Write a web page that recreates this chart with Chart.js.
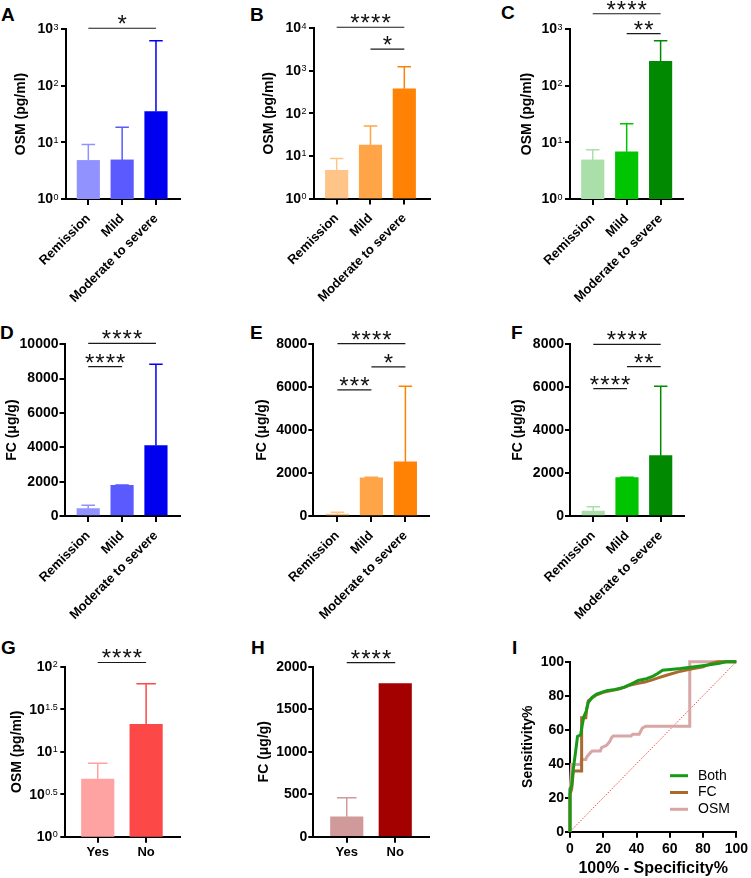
<!DOCTYPE html>
<html>
<head>
<meta charset="utf-8">
<title>OSM and FC by disease activity</title>
<script src="https://cdn.jsdelivr.net/npm/chart.js"></script>
<style>
  body { margin: 0; background: #fff; }
  #wrap { position: relative; width: 751px; height: 878px; overflow: hidden; background: #fff; }
  #wrap canvas { position: absolute; left: 0; top: 0; }
  .tag { position: absolute; font: bold 19px 'Liberation Sans', Arial, sans-serif; line-height: 19px; color: #000; }
</style>
</head>
<body>
<div id="wrap">
  <div class="tag" style="left:1px;top:4.5px">A</div>
  <div class="tag" style="left:250px;top:4.5px">B</div>
  <div class="tag" style="left:501px;top:3px">C</div>
  <div class="tag" style="left:0px;top:322.5px">D</div>
  <div class="tag" style="left:250px;top:322.5px">E</div>
  <div class="tag" style="left:511px;top:322.5px">F</div>
  <div class="tag" style="left:1px;top:637.5px">G</div>
  <div class="tag" style="left:251px;top:637.5px">H</div>
  <div class="tag" style="left:512px;top:637.5px">I</div>
</div>
<script>
// groups
var severity = ['Remission', 'Mild', 'Moderate to severe'];
var response = ['Yes', 'No'];

// OSM (pg/ml): mean and SD per group
var osmA = [4.8, 4.9, 35];
var osmA_sd = [4.4, 13.5, 585];
var osmB = [4.6, 17.8, 374];
var osmB_sd = [4.1, 32.2, 854];
var osmC = [4.9, 6.8, 269];
var osmC_sd = [2.5, 14.5, 351];
var osmG = [4.77, 21.0];
var osmG_sd = [2.52, 42];

// FC (ug/g): mean and SD per group
var fcD = [425, 1790, 4100];
var fcD_sd = [200, 15, 4745];
var fcE = [90, 1775, 2520];
var fcE_sd = [85, 25, 3530];
var fcF = [233, 1790, 2810];
var fcF_sd = [200, 10, 3240];
var fcH = [235, 1800];
var fcH_sd = [224, 0];

// log axis ticks (exponents of 10)
var logTicks3 = [0, 1, 2, 3];
var logTicks4 = [0, 1, 2, 3, 4];
var logTicksHalf = [0, 0.5, 1, 1.5, 2];

// significance brackets: [from group, to group, stars, height in axis units]
var sigA = [[0, 2, '*', 1030]];
var sigB = [[0, 2, '****', 10400], [1, 2, '*', 3200]];
var sigC = [[0, 2, '****', 1860], [1, 2, '**', 826]];
var sigD = [[0, 2, '****', 10050], [0, 1, '****', 8700]];
var sigE = [[0, 2, '****', 8030], [1, 2, '*', 6950], [0, 1, '***', 5880]];
var sigF = [[0, 2, '****', 8000], [1, 2, '**', 6960], [0, 1, '****', 5935]];
var sigG = [[0, 1, '****', 112]];
var sigH = [[0, 1, '****', 2047]];

// ROC curves (100% - specificity%, sensitivity%)
var bothX = [0, 0, 1, 1.5, 2.5, 3.5, 4.5, 6.4, 7.4, 8.4, 9.8, 11, 13.3, 16, 19, 22, 27, 33, 37, 41, 46, 50, 52.7, 55.7, 66.4, 75, 83, 89.8, 93.7, 100];
var bothY = [0, 25, 27, 33, 40.6, 48, 56, 57, 63, 68, 71, 76, 79, 81, 82, 83, 83.7, 85, 87, 89, 90, 91.5, 93, 95, 96, 97, 98, 99, 100, 100];
var fcX = [0, 0, 1, 1.5, 2, 7, 7, 9.5, 10, 11, 13, 16, 20, 25, 30, 35, 41, 45, 49, 53, 58, 65, 72, 80, 85, 89, 100];
var fcY = [0, 22, 25, 30, 35.7, 35.7, 67, 67, 72, 77, 78.5, 80.5, 82, 83, 84, 86, 87.3, 88, 89.2, 90.5, 92, 94, 95.5, 97, 99, 100, 100];
var osmX = [0, 0, 1, 6.4, 7, 9.5, 10, 12.3, 13.3, 18.2, 19, 22, 24, 25, 26, 36.7, 37.7, 41.6, 43.5, 45.5, 72, 72, 100];
var osmY = [0, 23, 39.6, 39.6, 42.5, 42.5, 44, 46.5, 47.5, 47.5, 49.4, 50.8, 53.3, 55.3, 56.3, 56.3, 57.3, 57.3, 61, 62, 62, 100, 100];
var diagX = [0, 100];
var diagY = [0, 100];

var blue = ['#9292ff', '#5a5aff', '#0000f0'];
var orange = ['#ffc488', '#ffa447', '#ff8205'];
var green = ['#aadfaa', '#00c400', '#018a01'];
var red = ['#ffa2a2', '#fd4848'];
var maroon = ['#d09a9a', '#a30000'];

Chart.defaults.font.family = "'Liberation Sans', Arial, Helvetica, sans-serif";
Chart.defaults.color = '#000';
Chart.defaults.animation = false;

var W = 751, H = 878;
var FONT = "'Liberation Sans', Arial, sans-serif";
var wrap = document.getElementById('wrap');

function addCanvas() {
  var c = document.createElement('canvas');
  c.width = W;
  c.height = H;
  wrap.appendChild(c);
  return c.getContext('2d');
}

// upper error bars (mean + SD)
var errPlugin = {
  id: 'errBars',
  afterDatasetsDraw: function (chart, args, o) {
    if (!o.sd) return;
    var meta = chart.getDatasetMeta(0);
    var y = chart.scales.y;
    var c = chart.ctx;
    var vals = chart.data.datasets[0].data;
    c.save();
    c.lineWidth = 1.5;
    meta.data.forEach(function (bar, i) {
      if (!o.sd[i]) return;
      var top = y.getPixelForValue(vals[i].y + o.sd[i]);
      var half = o.cap / 2;
      c.strokeStyle = o.colors[i];
      c.beginPath();
      c.moveTo(bar.x, bar.y);
      c.lineTo(bar.x, top);
      c.moveTo(bar.x - half, top);
      c.lineTo(bar.x + half, top);
      c.stroke();
    });
    c.restore();
  }
};

// significance brackets with stars
var sigPlugin = {
  id: 'sig',
  afterDraw: function (chart, args, o) {
    if (!o.items) return;
    var x = chart.scales.x, y = chart.scales.y, c = chart.ctx;
    c.save();
    c.strokeStyle = '#1a1a1a';
    c.lineWidth = 1.2;
    c.fillStyle = '#111';
    c.font = '24px ' + FONT;
    c.textAlign = 'center';
    c.textBaseline = 'alphabetic';
    o.items.forEach(function (it) {
      var x1 = x.getPixelForValue(it[0]), x2 = x.getPixelForValue(it[1]);
      var yy = y.getPixelForValue(it[3]);
      c.beginPath();
      c.moveTo(x1, yy);
      c.lineTo(x2, yy);
      c.stroke();
      var n = it[2].length, cx = (x1 + x2) / 2;
      for (var k = 0; k < n; k++) {
        c.fillText(it[2][k], cx + (k - (n - 1) / 2) * 10.4, yy + 3.9);
      }
    });
    c.restore();
  }
};

// 10^n labels for log axes
var powPlugin = {
  id: 'pow',
  afterDraw: function (chart, args, o) {
    if (!o.on) return;
    var s = chart.scales.y, c = chart.ctx;
    c.save();
    c.fillStyle = '#000';
    s.ticks.forEach(function (t) {
      var py = s.getPixelForValue(t.value);
      var e = String(Math.round(Math.log10(t.value) * 10) / 10);
      var right = s.right - 7.5;
      c.font = '9px ' + FONT;
      c.textAlign = 'left';
      c.textBaseline = 'alphabetic';
      var ew = c.measureText(e).width;
      c.fillText(e, right - ew, py + 0.5);
      c.font = 'bold 14px ' + FONT;
      c.textAlign = 'right';
      c.textBaseline = 'middle';
      c.fillText('10', right - ew - 0.5, py + 0.5);
    });
    c.restore();
  }
};

// legend inside the ROC plot
var rocLegend = {
  id: 'rocLegend',
  afterDraw: function (chart, args, o) {
    if (!o.left) return;
    var c = chart.ctx, row = 0;
    c.save();
    c.font = '14px ' + FONT;
    c.textAlign = 'left';
    c.textBaseline = 'middle';
    chart.data.datasets.forEach(function (ds) {
      if (!ds.label) return;
      var yy = o.top + row * o.rowH;
      c.strokeStyle = ds.borderColor;
      c.lineWidth = 3;
      c.beginPath();
      c.moveTo(o.left, yy);
      c.lineTo(o.left + 18, yy);
      c.stroke();
      c.fillStyle = '#000';
      c.fillText(ds.label, o.left + 28, yy);
      row++;
    });
    c.restore();
  }
};

function axisGrid(len) {
  return { drawOnChartArea: false, drawTicks: true, tickLength: len, color: '#000', lineWidth: 2, offset: false };
}

function barPanel(p) {
  var xH = Math.min(p.rot ? 115 : 60, H - p.area[3]);
  var yW = p.area[0] - p.col;
  var yScale = {
    type: p.logTicks ? 'logarithmic' : 'linear',
    min: p.yMin,
    max: p.yMax,
    border: { display: true, color: '#000', width: 2 },
    grid: axisGrid(5),
    title: { display: true, text: p.title, font: { size: 14, weight: 'bold' }, color: '#000', padding: { top: p.titlePad, bottom: 0 } },
    afterFit: function (s) { s.width = yW; }
  };
  if (p.logTicks) {
    yScale.afterBuildTicks = function (s) {
      s.ticks = p.logTicks.map(function (e) { return { value: Math.pow(10, e) }; });
    };
    yScale.ticks = { color: 'rgba(0,0,0,0)', callback: function () { return ''; } };
  } else {
    yScale.ticks = { stepSize: p.yStep, font: { size: 14, weight: 'bold' }, color: '#000', padding: 1,
      callback: function (v) { return String(v); } };
  }
  var xScale = {
    type: 'linear',
    min: p.xMin,
    max: p.xMax,
    offset: false,
    afterBuildTicks: function (s) {
      s.ticks = p.cats.map(function (c, i) { return { value: i }; });
    },
    ticks: { autoSkip: false, minRotation: p.rot, maxRotation: p.rot, font: { size: 13, weight: 'bold' }, color: '#000',
      padding: p.rot ? 6 : 2, callback: function (v) { return p.cats[v]; } },
    grid: axisGrid(6),
    border: { display: true, color: '#000', width: 2 },
    afterFit: function (s) { s.height = xH; }
  };
  new Chart(addCanvas(), {
    type: 'bar',
    data: {
      datasets: [{
        data: p.mean.map(function (m, i) { return { x: i, y: m }; }),
        backgroundColor: p.colors,
        borderWidth: 0,
        barThickness: p.barW
      }]
    },
    options: {
      responsive: false,
      devicePixelRatio: 1,
      layout: { autoPadding: false, padding: { left: p.col, top: p.area[1], right: W - p.area[2], bottom: H - p.area[3] - xH } },
      scales: { x: xScale, y: yScale },
      plugins: {
        legend: { display: false },
        tooltip: { enabled: false },
        errBars: { sd: p.sd, colors: p.colors, cap: p.barW * 0.6 },
        sig: { items: p.sig },
        pow: { on: !!p.logTicks }
      }
    },
    plugins: [errPlugin, sigPlugin, powPlugin]
  });
}

var osmTitle = 'OSM (pg/ml)';
var fcTitle = 'FC (\u03bcg/g)';

barPanel({ cats: severity, mean: osmA, sd: osmA_sd, colors: blue, sig: sigA, title: osmTitle, logTicks: logTicks3, yMin: 1, yMax: 1000,
  area: [66, 29, 180, 199], col: 0, titlePad: 12.6, xMin: -0.66, xMax: 2.71, rot: 45, barW: 22.5 });
barPanel({ cats: severity, mean: osmB, sd: osmB_sd, colors: orange, sig: sigB, title: osmTitle, logTicks: logTicks4, yMin: 1, yMax: 10000,
  area: [314, 28, 430, 198.5], col: 250, titlePad: 10.6, xMin: -0.67, xMax: 2.76, rot: 45, barW: 22.5 });
barPanel({ cats: severity, mean: osmC, sd: osmC_sd, colors: green, sig: sigC, title: osmTitle, logTicks: logTicks3, yMin: 1, yMax: 1000,
  area: [570, 29, 683, 199], col: 500, titlePad: 18.3, xMin: -0.67, xMax: 2.66, rot: 45, barW: 22.5 });

barPanel({ cats: severity, mean: fcD, sd: fcD_sd, colors: blue, sig: sigD, title: fcTitle, yMin: 0, yMax: 10000, yStep: 2000,
  area: [64.5, 344.3, 180, 516], col: 0, titlePad: 3.3, xMin: -0.70, xMax: 2.71, rot: 45, barW: 22.5 });
barPanel({ cats: severity, mean: fcE, sd: fcE_sd, colors: orange, sig: sigE, title: fcTitle, yMin: 0, yMax: 8000, yStep: 2000,
  area: [313.3, 344.3, 428.5, 516], col: 250, titlePad: 3.9, xMin: -0.71, xMax: 2.68, rot: 45, barW: 22.5 });
barPanel({ cats: severity, mean: fcF, sd: fcF_sd, colors: green, sig: sigF, title: fcTitle, yMin: 0, yMax: 8000, yStep: 2000,
  area: [570, 344.3, 684.3, 516], col: 500, titlePad: 9.9, xMin: -0.69, xMax: 2.70, rot: 45, barW: 22.5 });

barPanel({ cats: response, mean: osmG, sd: osmG_sd, colors: red, sig: sigG, title: osmTitle, logTicks: logTicksHalf, yMin: 1, yMax: 100,
  area: [65.3, 666.7, 180, 836.7], col: 0, titlePad: 8.9, xMin: -0.67, xMax: 1.70, rot: 0, barW: 32.5 });
barPanel({ cats: response, mean: fcH, sd: fcH_sd, colors: maroon, sig: sigH, title: fcTitle, yMin: 0, yMax: 2000, yStep: 500,
  area: [313.3, 666.7, 428.7, 836.7], col: 250, titlePad: 5.6, xMin: -0.69, xMax: 1.69, rot: 0, barW: 32.5 });

// ROC panel
function pts(xs, ys) {
  return xs.map(function (v, i) { return { x: v, y: ys[i] }; });
}
function rocLine(label, xs, ys, color) {
  return { label: label, data: pts(xs, ys), showLine: true, borderColor: color, backgroundColor: color,
    borderWidth: 3, pointRadius: 0, fill: false, tension: 0, clip: false };
}

var rocArea = [570, 661.7, 740.7, 831.7];
new Chart(addCanvas(), {
  type: 'scatter',
  data: {
    datasets: [
      rocLine('Both', bothX, bothY, '#179b17'),
      rocLine('FC', fcX, fcY, '#a86a2e'),
      rocLine('OSM', osmX, osmY, '#d9a6a6'),
      { label: '', data: pts(diagX, diagY), showLine: true, borderColor: '#f24a4a', borderWidth: 1,
        borderDash: [1.5, 1.5], pointRadius: 0, fill: false }
    ]
  },
  options: {
    responsive: false,
    devicePixelRatio: 1,
    layout: { autoPadding: false, padding: { left: 500, top: rocArea[1], right: W - rocArea[2], bottom: 0 } },
    scales: {
      x: {
        type: 'linear', min: 0, max: 100,
        ticks: { stepSize: 20, font: { size: 14, weight: 'bold' }, color: '#000', padding: 3 },
        grid: axisGrid(6),
        border: { display: true, color: '#000', width: 2 },
        title: { display: true, text: '100% - Specificity%', font: { size: 16, weight: 'bold' }, color: '#000', padding: { top: 0, bottom: 0 } },
        afterFit: function (s) { s.height = H - rocArea[3]; }
      },
      y: {
        type: 'linear', min: 0, max: 100,
        ticks: { stepSize: 20, font: { size: 14, weight: 'bold' }, color: '#000', padding: 1 },
        grid: axisGrid(5),
        border: { display: true, color: '#000', width: 2 },
        title: { display: true, text: 'Sensitivity%', font: { size: 14, weight: 'bold' }, color: '#000', padding: { top: 19.9, bottom: 0 } },
        afterFit: function (s) { s.width = rocArea[0] - 500; }
      }
    },
    plugins: {
      legend: { display: false },
      tooltip: { enabled: false },
      rocLegend: { left: 670, top: 775.7, rowH: 16.8 }
    }
  },
  plugins: [rocLegend]
});
</script>
</body>
</html>
